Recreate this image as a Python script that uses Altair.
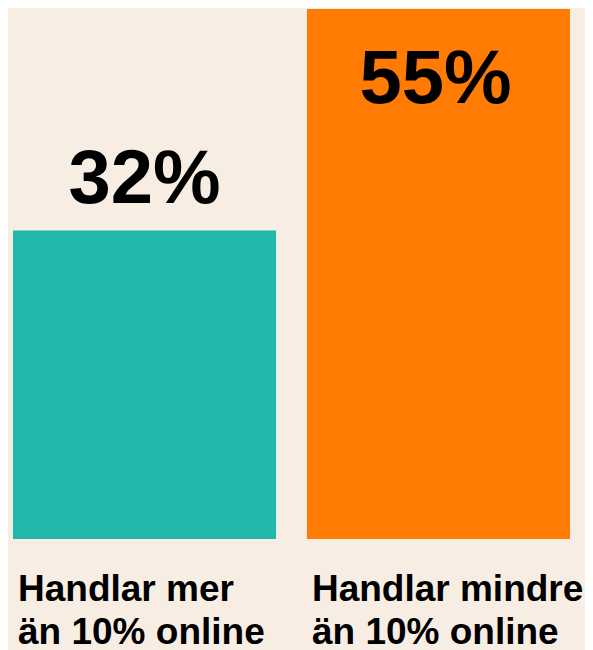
import altair as alt
import pandas as pd

categories = ["Handlar mer\nän 10% online", "Handlar mindre\nän 10% online"]
values = [32, 55]
labels = ["32%", "55%"]
colors = ["#21b8ac", "#ff7b03"]

df = pd.DataFrame({"cat": categories, "value": values, "label": labels, "color": colors})

xscale = alt.Scale(paddingInner=0.105, paddingOuter=0.017)
x = alt.X("cat:N", sort=categories, axis=None, scale=xscale)
y = alt.Y("value:Q", axis=None, scale=alt.Scale(domain=[0, 55.1], nice=False, zero=True))

bars = alt.Chart(df).mark_bar(cornerRadius=0).encode(
    x=x, y=y, color=alt.Color("color:N", scale=None)
)

pct_font = dict(font="Liberation Sans", fontWeight="bold", fontSize=76, color="#000000",
                baseline="alphabetic", align="center")

lab_above = alt.Chart(df).transform_filter("datum.value < 40").mark_text(dy=-28, **pct_font).encode(
    x=x, y=y, text="label:N"
)
lab_inside = alt.Chart(df).transform_filter("datum.value >= 40").mark_text(dy=94, dx=-3, **pct_font).encode(
    x=x, y=y, text="label:N"
)

cat_text = alt.Chart(df).mark_text(
    font="Liberation Sans", fontWeight="bold", fontSize=37, color="#000000",
    align="left", baseline="alphabetic", lineBreak="\n", lineHeight=43, dx=5, dy=62
).encode(
    x=alt.X("cat:N", sort=categories, axis=None, bandPosition=0, scale=xscale),
    y=alt.Y("zero:Q", axis=None, scale=alt.Scale(domain=[0, 55.1], nice=False)),
    text="cat:N",
).transform_calculate(zero="0")

chart = alt.layer(bars, lab_above, lab_inside, cat_text).properties(
    width=567, height=531,
    padding={"left": 0, "top": 0, "right": 10, "bottom": 111},
    autosize=alt.AutoSizeParams(type="none"),
    background="#f8ede3",
).configure_view(stroke=None)

chart.save("out.html", embed_options={"renderer": "svg", "actions": False})
